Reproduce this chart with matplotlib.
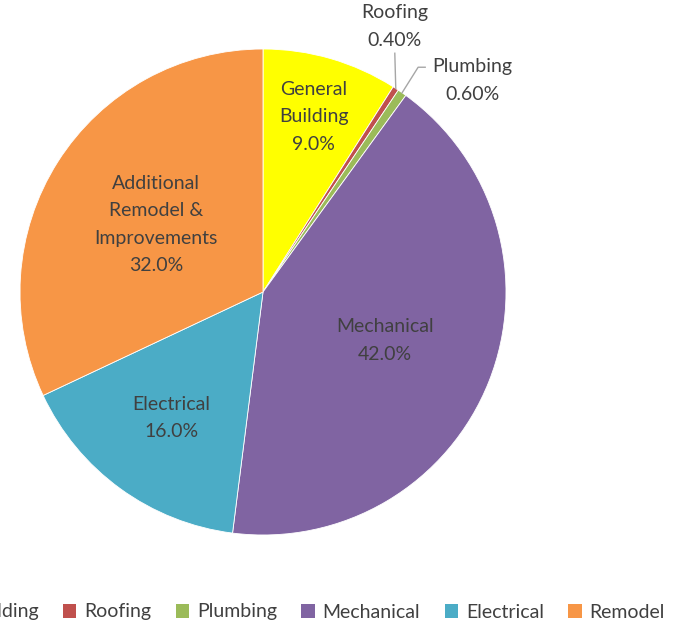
import numpy as np
import matplotlib.pyplot as plt
from matplotlib.patches import Patch

# Slice data (clockwise from 12 o'clock)
categories = ['General Building', 'Roofing', 'Plumbing', 'Mechanical', 'Electrical', 'Remodel']
slice_labels = ['General\nBuilding', 'Roofing', 'Plumbing', 'Mechanical', 'Electrical',
                'Additional\nRemodel &\nImprovements']
values = [9.0, 0.40, 0.60, 42.0, 16.0, 32.0]
pct_text = ['9.0%', '0.40%', '0.60%', '42.0%', '16.0%', '32.0%']
colors = ['#FFFF00', '#C0504D', '#9BBB59', '#8064A2', '#4BACC6', '#F79646']

text_color = '#404040'
plt.rcParams['font.family'] = ['Lato', 'DejaVu Sans']
fs = 14
ls = 1.75

W, H = 679, 624
fig = plt.figure(figsize=(W / 100, H / 100), dpi=100)

# pie centre and radius in pixels
cx, cy, R = 263, 292, 243
ax = fig.add_axes([(cx - R) / W, 1 - (cy + R) / H, 2 * R / W, 2 * R / H])

wedges, _ = ax.pie(values, colors=colors, startangle=90, counterclock=False, radius=1,
                   wedgeprops=dict(edgecolor='white', linewidth=0.6))
ax.set_xlim(-1, 1)
ax.set_ylim(-1, 1)
ax.set_aspect('equal')
ax.axis('off')

# inner labels: radial distance per slice
inner_r = {0: 0.75, 3: 0.54, 4: 0.64, 5: 0.52}
for i, w in enumerate(wedges):
    mid = np.deg2rad((w.theta1 + w.theta2) / 2)
    if i in inner_r:
        r = inner_r[i]
        ax.text(r * np.cos(mid), r * np.sin(mid), slice_labels[i] + '\n' + pct_text[i],
                ha='center', va='center', fontsize=fs, color=text_color, linespacing=ls)

# outside labels for the two thin slices
# Roofing
w = wedges[1]
mid = np.deg2rad((w.theta1 + w.theta2) / 2)
ex, ey = np.cos(mid), np.sin(mid)
ax.plot([ex, ex - 0.004], [ey, ey + 0.145], color='#A6A6A6', lw=1, clip_on=False)
ax.text(ex - 0.004, ey + 0.255, slice_labels[1] + '\n' + pct_text[1], ha='center', va='center',
        fontsize=fs, color=text_color, linespacing=ls)
# Plumbing
w = wedges[2]
mid = np.deg2rad((w.theta1 + w.theta2) / 2)
ex, ey = np.cos(mid), np.sin(mid)
ax.plot([ex, ex + 0.066, ex + 0.095], [ey, ey + 0.105, ey + 0.105], color='#A6A6A6', lw=1,
        clip_on=False)
ax.text(ex + 0.29, ey + 0.05, slice_labels[2] + '\n' + pct_text[2], ha='center', va='center',
        fontsize=fs, color=text_color, linespacing=ls)

# legend, running off the left edge like the original
handles = [Patch(facecolor=c, edgecolor='none') for c in colors]
fig.legend(handles, categories, loc='center right', bbox_to_anchor=(665 / W, 1 - 612 / H),
           ncol=6, frameon=False, fontsize=fs, labelcolor=text_color,
           handlelength=0.7, handleheight=0.7, handletextpad=0.4, columnspacing=1.25,
           borderpad=0, borderaxespad=0)

fig.savefig('out.png', dpi=100, facecolor='white')
